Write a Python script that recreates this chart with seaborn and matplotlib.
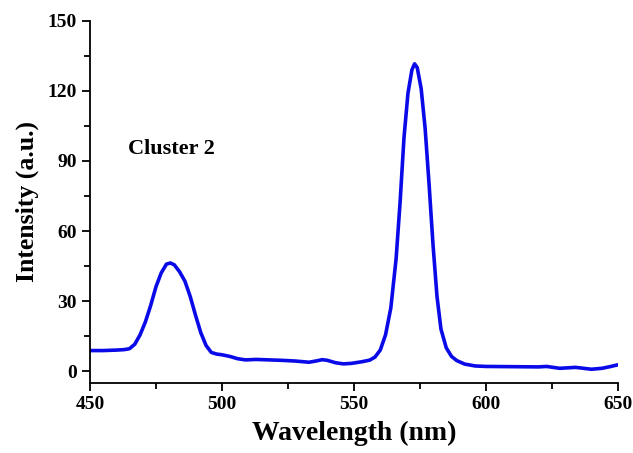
import numpy as np
import pandas as pd
import seaborn as sns
import matplotlib
matplotlib.use('Agg')
import matplotlib.pyplot as plt
from matplotlib.ticker import MultipleLocator

# Emission spectrum
wavelength = [450, 455, 460, 463, 465, 467, 469, 471, 473, 475, 477, 479, 480.5, 482, 484,
              486, 488, 490, 492, 494, 496, 498, 500, 503, 506, 509, 513, 518, 523, 528,
              533, 536, 538, 540, 543, 546, 549, 553, 556, 558, 560, 562, 564, 566, 567.5,
              569, 570.5, 572, 573, 574, 575.5, 577, 578.5, 580, 581.5, 583, 585, 587, 589,
              592, 596, 600, 610, 620, 623, 628, 634, 640, 644, 647, 650]
intensity = [8.8, 8.8, 9.0, 9.2, 9.6, 11.5, 15.5, 21, 28, 36, 42, 45.8, 46.3, 45.5, 42.5,
             38.5, 32, 24, 16.5, 11, 8, 7.3, 7.0, 6.3, 5.3, 4.8, 5.0, 4.8, 4.6, 4.3,
             3.8, 4.4, 4.9, 4.6, 3.6, 3.1, 3.3, 4.0, 4.7, 6.0, 9, 15.5, 27, 48, 72,
             100, 119, 129, 131.6, 130, 121, 104, 80, 54, 32, 18, 10, 6.3, 4.5,
             3.0, 2.2, 2.0, 1.9, 1.8, 2.0, 1.2, 1.6, 0.8, 1.2, 1.9, 2.7]

x_ticks = [450, 500, 550, 600, 650]
y_ticks = [0, 30, 60, 90, 120, 150]

df = pd.DataFrame({'wavelength': wavelength, 'intensity': intensity})

sns.set_style('ticks')
plt.rcParams['font.family'] = ['Liberation Serif', 'DejaVu Serif']
plt.rcParams['font.weight'] = 'bold'
plt.rcParams['text.color'] = 'black'
plt.rcParams['axes.labelcolor'] = 'black'

fig, ax = plt.subplots(figsize=(6.33, 4.53), dpi=100)
fig.subplots_adjust(left=0.142, right=0.976, bottom=0.155, top=0.954)

sns.lineplot(data=df, x='wavelength', y='intensity', color='#0a0ae8', linewidth=2.6, ax=ax)

ax.set_xlim(450, 650)
ax.set_ylim(-5, 150)
ax.set_xticks(x_ticks)
ax.set_yticks(y_ticks)
ax.xaxis.set_minor_locator(MultipleLocator(25))
ax.yaxis.set_minor_locator(MultipleLocator(15))
ax.tick_params(which='major', direction='out', length=6, width=1.3, labelsize=14,
               colors='black', labelcolor='black')
ax.tick_params(which='minor', direction='out', length=4, width=1.3, colors='black')
for lbl in ax.get_xticklabels() + ax.get_yticklabels():
    lbl.set_fontweight('bold')

sns.despine(ax=ax)
for side in ['left', 'bottom']:
    ax.spines[side].set_linewidth(1.3)
    ax.spines[side].set_color('black')

ax.set_xlabel('Wavelength (nm)', fontsize=20, fontweight='bold', labelpad=6, color='black')
ax.set_ylabel('Intensity (a.u.)', fontsize=18.5, fontweight='bold', labelpad=6, color='black')

ax.text(464.5, 93, 'Cluster 2', fontsize=16, fontweight='bold', color='black')

fig.savefig('out.png', dpi=100)
